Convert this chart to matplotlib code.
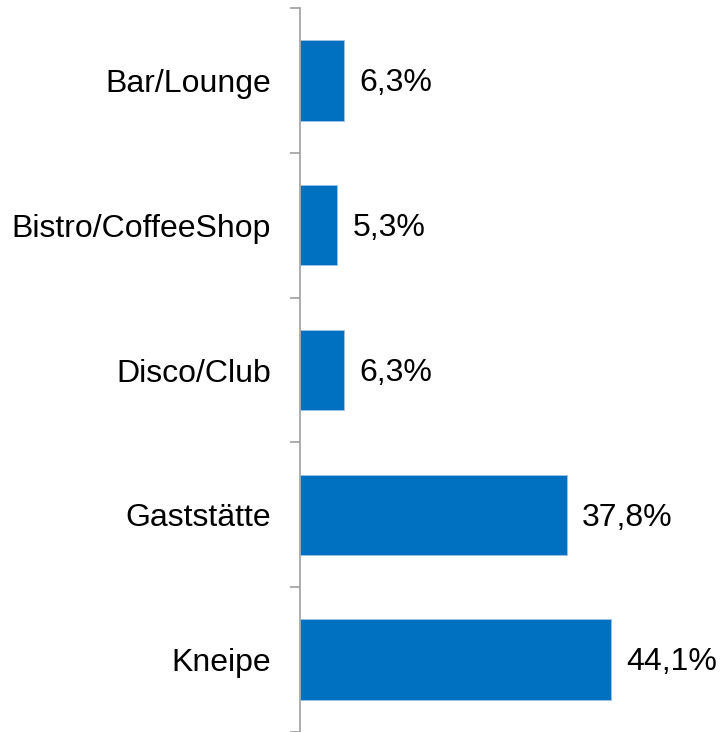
import numpy as np
import matplotlib.pyplot as plt

categories = ["Bar/Lounge", "Bistro/CoffeeShop", "Disco/Club", "Gaststätte", "Kneipe"]
values = [6.3, 5.3, 6.3, 37.8, 44.1]
labels = ["6,3%", "5,3%", "6,3%", "37,8%", "44,1%"]

plt.rcParams['font.family'] = ['Liberation Sans', 'DejaVu Sans']

fig = plt.figure(figsize=(7.2, 7.32), dpi=100)
ax = fig.add_axes([300 / 720, 0, 353 / 720, 1 - 8 / 732])

y = np.arange(len(categories))
ax.barh(y, values, height=0.555, color='#0070C0', edgecolor='#9DC3E6', linewidth=0.6)
for yi, v, lab in zip(y, values, labels):
    ax.annotate(lab, (v, yi), xytext=(11, -2), textcoords='offset points',
                ha='left', va='center', fontsize=23, color='#000000')

ax.set_ylim(len(categories) - 0.5, -0.5)
ax.set_xlim(0, 50)
ax.set_yticks(y)
ax.set_yticklabels(categories, fontsize=23, va='center_baseline')
ax.set_yticks(np.arange(-0.5, len(categories)), minor=True)
ax.tick_params(axis='y', which='major', length=0, pad=21)
ax.tick_params(axis='y', which='minor', length=7.2, width=1.2, color='#A0A0A0')
ax.set_xticks([])
for s in ['top', 'right', 'bottom']:
    ax.spines[s].set_visible(False)
ax.spines['left'].set_color('#A0A0A0')
ax.spines['left'].set_linewidth(1.2)

fig.savefig('out.png', dpi=100)
